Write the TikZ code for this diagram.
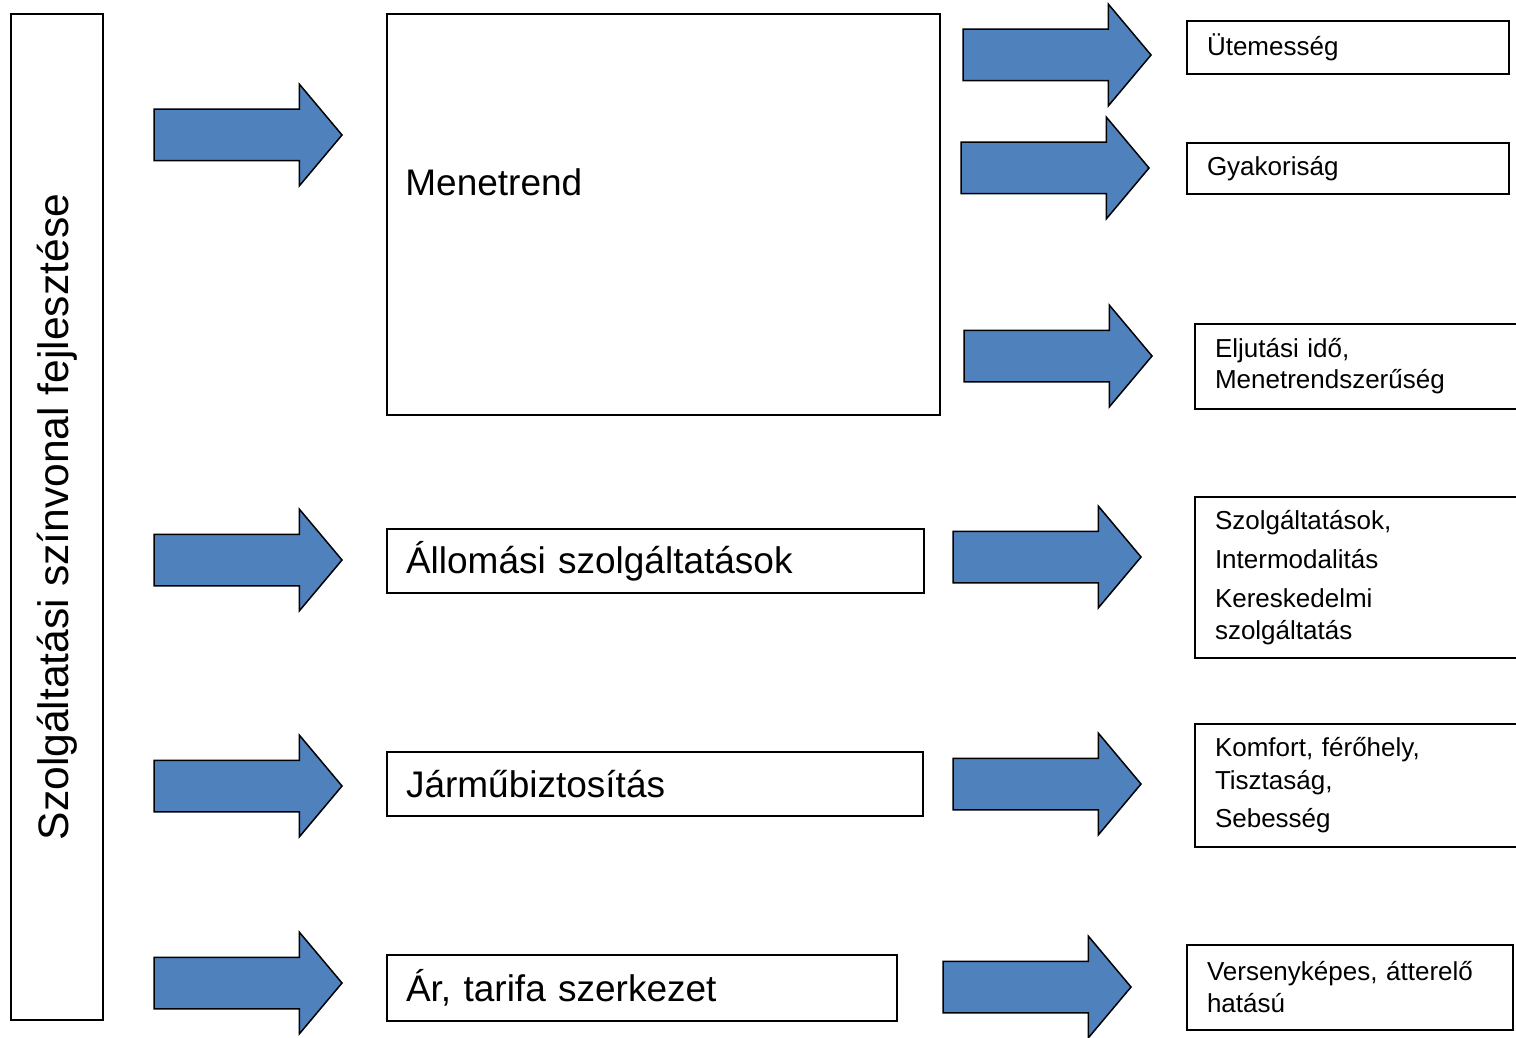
\documentclass[tikz,border=0pt]{standalone}
\usepackage{fontspec}
\setmainfont{Liberation Sans}
\usepackage{xcolor}
\usepackage{tikz}
\usetikzlibrary{shapes, arrows, positioning}

\definecolor{arrowblue}{HTML}{4F81BD}

\begin{document}
\begin{tikzpicture}[x=0.5pt, y=-0.5pt]
    % Styles
    \tikzstyle{fatarrow} = [single arrow, draw=black, fill=arrowblue, line width=0.75pt, minimum height=94pt, inner xsep=0pt, inner ysep=12.5pt, single arrow head extend=12.5pt, single arrow tip angle=100, anchor=tip]
    \tikzstyle{mainbox} = [rectangle, draw, line width=1pt, inner xsep=9.5pt, align=left, font=\fontsize{18.5}{22}\selectfont]
    \tikzstyle{resbox} = [rectangle, draw, line width=1pt, inner xsep=10pt, align=left, font=\fontsize{13}{16}\selectfont]

    \useasboundingbox (0,0) rectangle (1516,1038);

    % Left box
    \node [draw, line width=1pt, rotate=90, minimum width=503pt, minimum height=46pt, font=\fontsize{21.3}{25}\selectfont] (szint) at (57,517) {Szolgáltatási színvonal fejlesztése};

    % Nodes: middle column
    \node [mainbox, text width=257.5pt, minimum height=200.5pt] (menet) at (663.5,214.5) {};
    \node [font=\fontsize{18.5}{22}\selectfont, anchor=west, inner sep=0pt] (menettxt) at (405,182) {Menetrend};
    \node [mainbox, text width=249.5pt, minimum height=32pt] (allom) at (655.5,561) {Állomási szolgáltatások};
    \node [mainbox, text width=249pt, minimum height=32pt] (jarmu) at (655,784) {Járműbiztosítás};
    \node [mainbox, text width=236pt, minimum height=33pt] (ar) at (642,988) {Ár, tarifa szerkezet};

    % Nodes: right column
    \node [resbox, text width=141pt, minimum height=26.5pt] (utem) at (1348,47.5) {Ütemesség};
    \node [resbox, text width=141pt, minimum height=25.5pt] (gyak) at (1348,168.5) {Gyakoriság};
    \node [resbox, text width=147.5pt, minimum height=42.5pt] (elj) at (1362.5,366.5) {Eljutási idő,\\[-0.5pt] Menetrendszerűség};
    \node [resbox, text width=147.5pt, minimum height=80.5pt] (szolg) at (1362.5,577.5) {Szolgáltatások,\\[3.5pt] Intermodalitás\\[3.5pt] Kereskedelmi\\ szolgáltatás};
    \node [resbox, text width=147.5pt, minimum height=61.5pt] (komf) at (1362.5,785.5) {Komfort, férőhely,\\[0.5pt] Tisztaság,\\[3pt] Sebesség};
    \node [resbox, text width=143pt, minimum height=42.5pt] (verseny) at (1350,987.5) {Versenyképes, átterelő\\ hatású};

    % Arrows: left (placed by their tips)
    \node [fatarrow] (inmenet) at (343,135) {};
    \node [fatarrow] (inallom) at (343,560) {};
    \node [fatarrow] (injarmu) at (343,786) {};
    \node [fatarrow] (inar) at (343,983) {};

    % Arrows: right
    \node [fatarrow] (oututem) at (1152,55) {};
    \node [fatarrow] (outgyak) at (1150,168) {};
    \node [fatarrow] (outelj) at (1153,356) {};
    \node [fatarrow] (outszolg) at (1142,557) {};
    \node [fatarrow] (outkomf) at (1142,784) {};
    \node [fatarrow] (outverseny) at (1132,987) {};

\end{tikzpicture}
\end{document}
